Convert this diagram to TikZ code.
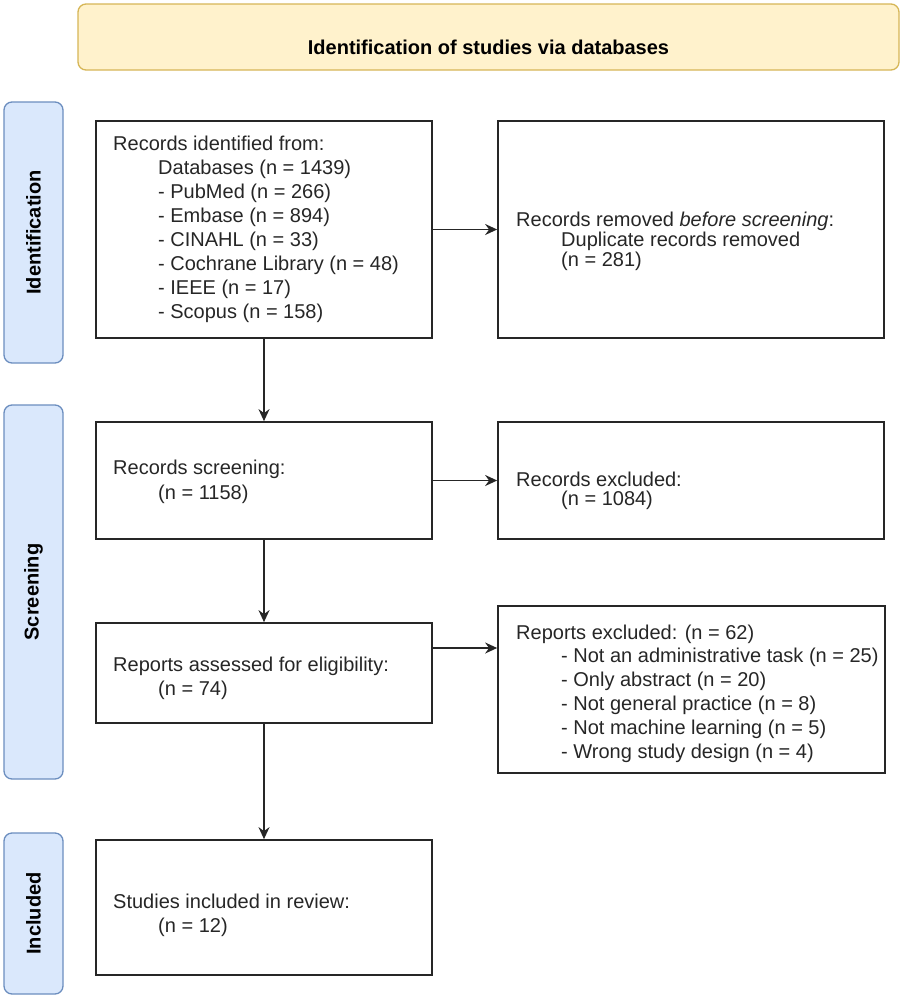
\documentclass[tikz,border=0pt]{standalone}
\usepackage{fontspec}
\setmainfont{Liberation Sans}
\usetikzlibrary{arrows.meta}
\definecolor{headfill}{HTML}{FFF2CC}
\definecolor{headline}{HTML}{D6B656}
\definecolor{bandfill}{HTML}{DAE8FC}
\definecolor{bandline}{HTML}{6C8EBF}
\definecolor{ink}{HTML}{262626}
\newcommand{\indt}{\hspace*{45pt}}

\begin{document}
\begin{tikzpicture}[x=1pt, y=-1pt,
    box/.style={draw=ink, line width=1.7pt, rectangle, inner sep=0pt},
    band/.style={draw=bandline, fill=bandfill, line width=1.3pt, rounded corners=8pt,
      minimum height=59pt, rotate=90, font=\fontsize{20}{24}\selectfont\bfseries},
    txt/.style={anchor=base west, align=left, inner sep=0pt, text=ink,
      font=\fontsize{20}{24}\selectfont},
    arr/.style={-{Stealth[length=12pt,width=11pt]}, line width=1.7pt, draw=ink}]
    \useasboundingbox (0,0) rectangle (904,1001);

    % Header
    \node[draw=headline, fill=headfill, line width=1.3pt, rounded corners=8pt,
      minimum width=821pt, minimum height=66pt] (head) at (488.5,37) {};
    \node[anchor=base, inner sep=0pt, font=\fontsize{20}{24}\selectfont\bfseries] (headtxt) at (488.5,54)
      {Identification of studies via databases};

    % Phase bands
    \node[band, minimum width=261pt] (idband) at (33.5,232.5) {Identification};
    \node[band, minimum width=374pt] (scrband) at (33.5,592) {Screening};
    \node[band, minimum width=161pt] (incband) at (33.5,913.5) {Included};

    % Left column
    \node[box, minimum width=336pt, minimum height=217pt] (ident) at (264,229.5) {};
    \node[box, minimum width=336pt, minimum height=117pt] (screen) at (264,480.5) {};
    \node[box, minimum width=336pt, minimum height=100pt] (elig) at (264,673) {};
    \node[box, minimum width=336pt, minimum height=135pt] (incl) at (264,907.5) {};

    % Right column
    \node[box, minimum width=386pt, minimum height=217pt] (removed) at (691,229.5) {};
    \node[box, minimum width=386pt, minimum height=117pt] (excl) at (691,480.5) {};
    \node[box, minimum width=387pt, minimum height=167pt] (rep) at (691.5,689.5) {};

    % Box texts (anchored on the baseline of the last line)
    \node[txt] (identtxt) at (113,318) {Records identified from:\\
      \indt Databases (n = 1439)\\
      \indt - PubMed (n = 266)\\
      \indt - Embase (n = 894)\\
      \indt - CINAHL (n = 33)\\
      \indt - Cochrane Library (n = 48)\\
      \indt - IEEE (n = 17)\\
      \indt - Scopus (n = 158)};
    \node[txt, font=\fontsize{20}{20}\selectfont] (removedtxt) at (516,266)
      {Records removed \textit{before screening}:\\
      \indt Duplicate records removed\\
      \indt (n = 281)};
    \node[txt, font=\fontsize{20}{25}\selectfont] (screentxt) at (113,499)
      {Records screening:\\ \indt (n = 1158)};
    \node[txt, font=\fontsize{20}{19}\selectfont] (excltxt) at (516,505)
      {Records excluded:\\ \indt (n = 1084)};
    \node[txt] (eligtxt) at (113,695)
      {Reports assessed for eligibility:\\ \indt (n = 74)};
    \node[txt, font=\fontsize{20}{23.8}\selectfont] (reptxt) at (516,758)
      {Reports excluded: (n = 62)\\
      \indt - Not an administrative task (n = 25)\\
      \indt - Only abstract (n = 20)\\
      \indt - Not general practice (n = 8)\\
      \indt - Not machine learning (n = 5)\\
      \indt - Wrong study design (n = 4)};
    \node[txt] (incltxt) at (113,932)
      {Studies included in review:\\ \indt (n = 12)};

    % Arrows
    \draw[arr] (ident) -- (removed);
    \draw[arr] (screen) -- (excl);
    \draw[arr] ([yshift=25pt]elig.east) -- ([yshift=25pt]elig.east -| rep.west);
    \draw[arr] (ident) -- (screen);
    \draw[arr] (screen) -- (elig);
    \draw[arr] (elig) -- (incl);
\end{tikzpicture}
\end{document}
